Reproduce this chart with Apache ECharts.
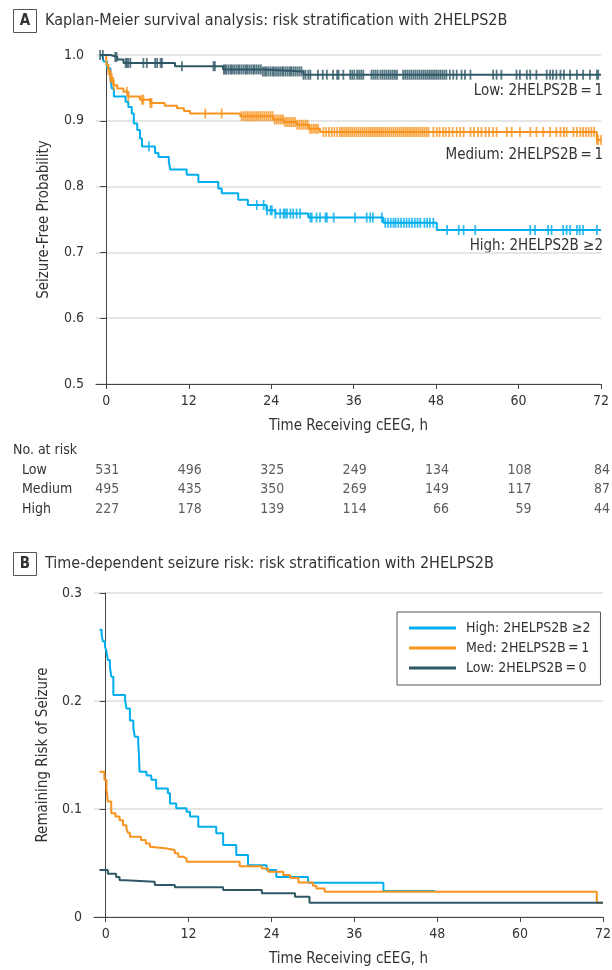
<!DOCTYPE html>
<html>
<head>
<meta charset="utf-8"/>
<title>2HELPS2B risk stratification</title>
<script src="https://cdn.jsdelivr.net/npm/echarts@6/dist/echarts.min.js"></script>
<style>
    html, body { margin: 0; padding: 0; background: #fff; }
    #main { width: 612px; height: 970px; }
</style>
</head>
<body>
<div id="main"></div>
<script type="text/javascript">
    // hours shown on both time axes
    var hourTicks = [0, 12, 24, 36, 48, 60, 72];

    // Panel A: Kaplan-Meier steps (time of drop, survival after drop)
    var lowTimesA = [-0.9, 0.6, 1.6, 2.5, 10.0, 17.0, 22.8, 28.7, 72];
    var lowSurvA = [1.0, 0.997, 0.993, 0.988, 0.983, 0.978, 0.975, 0.970, 0.970];

    var medTimesA = [-0.9, 0.0, 0.3, 0.6, 1.0, 1.6, 2.5, 3.2, 4.9, 6.4, 8.5, 10.3, 11.3, 12.2, 19.5, 24.3, 25.8, 27.7, 29.5, 31.1, 71.4, 72];
    var medSurvA = [1.0, 0.985, 0.977, 0.965, 0.954, 0.949, 0.944, 0.937, 0.932, 0.927, 0.923, 0.919, 0.915, 0.911, 0.907, 0.902, 0.898, 0.894, 0.888, 0.883, 0.871, 0.871];

    var highTimesA = [-0.6, -0.4, 0.1, 0.6, 0.8, 1.1, 2.8, 3.2, 3.7, 4.0, 4.5, 4.9, 5.2, 7.1, 7.6, 9.1, 9.3, 11.7, 13.4, 16.3, 16.8, 19.2, 20.6, 23.3, 24.6, 29.4, 40.3, 48.1, 72];
    var highSurvA = [1.0, 0.990, 0.980, 0.965, 0.949, 0.937, 0.929, 0.921, 0.911, 0.896, 0.886, 0.873, 0.861, 0.851, 0.845, 0.838, 0.826, 0.818, 0.807, 0.797, 0.790, 0.780, 0.772, 0.764, 0.759, 0.753, 0.745, 0.734, 0.734];

    // Panel A: censoring times (h)
    var lowCensor = [-0.9, -0.5, 1.3, 1.5, 2.8, 3.0, 3.2, 3.5, 5.4, 5.9, 7.1, 7.4, 7.9, 8.1, 11.0, 15.6, 15.8, 17.1, 17.3, 17.5,
        17.8, 18.1, 18.3, 18.6, 18.9, 19.2, 19.4, 19.7, 20.0, 20.3, 20.5, 20.8, 21.1, 21.4, 21.6, 21.9, 22.2, 22.5, 22.8,
        23.1, 23.3, 23.6, 23.9, 24.2, 24.4, 24.7, 25.0, 25.3, 25.6, 25.8, 26.1, 26.4, 26.7, 26.9, 27.2, 27.5, 27.8, 28.1,
        28.4, 28.7, 29.0, 29.4, 29.7, 30.8, 31.5, 32.1, 33.0, 33.6, 33.8, 34.5, 35.5, 35.8, 36.1, 36.5, 36.8, 37.1, 37.4,
        38.6, 38.9, 39.2, 39.5, 39.9, 40.2, 40.5, 40.8, 41.1, 41.4, 41.7, 42.0, 42.3, 43.2, 43.5, 43.8, 44.1, 44.4, 44.7,
        45.0, 45.3, 45.6, 45.9, 46.2, 46.5, 46.8, 47.1, 47.4, 47.7, 48.0, 48.3, 48.6, 48.9, 49.2, 49.5, 50.0, 50.5, 51.0,
        51.7, 52.2, 53.0, 56.3, 56.8, 57.5, 59.7, 60.2, 61.2, 61.7, 62.6, 64.1, 64.6, 65.0, 65.5, 66.1, 66.6, 67.5, 68.5,
        69.4, 70.4, 71.4, 71.6];
    var medCensor = [0.3, 0.6, 0.8, 1.1, 3.0, 3.2, 5.2, 5.4, 6.4, 6.6, 14.4, 16.8, 19.7, 20.0, 20.3, 20.6, 20.9, 21.2, 21.5,
        21.8, 22.1, 22.4, 22.7, 23.0, 23.3, 23.6, 23.9, 24.2, 24.5, 24.8, 25.1, 25.4, 25.7, 26.0, 26.3, 26.6, 26.9, 27.2,
        27.5, 27.8, 28.1, 28.4, 28.7, 29.0, 29.3, 29.6, 29.9, 30.2, 30.5, 30.8, 31.6, 32.0, 32.4, 32.8, 33.2, 33.6, 34.0,
        34.3, 34.6, 34.9, 35.2, 35.5, 35.8, 36.1, 36.4, 36.7, 37.0, 37.3, 37.6, 37.9, 38.2, 38.5, 38.8, 39.1, 39.4, 39.7,
        40.0, 40.3, 40.6, 40.9, 41.2, 41.5, 41.8, 42.1, 42.4, 42.7, 43.0, 43.3, 43.6, 43.9, 44.2, 44.5, 44.8, 45.1, 45.4,
        45.7, 46.0, 46.3, 46.6, 46.9, 47.6, 48.1, 48.5, 49.0, 49.4, 49.9, 50.4, 51.0, 51.5, 52.0, 53.0, 53.5, 54.1, 54.6,
        55.2, 55.7, 56.3, 56.8, 58.3, 59.0, 60.2, 61.7, 62.6, 63.6, 64.6, 65.5, 66.1, 66.6, 67.0, 68.0, 68.5, 69.0, 69.4,
        69.8, 70.2, 70.6, 71.0, 71.4, 71.6, 72.0];
    var highCensor = [6.2, 21.9, 22.9, 23.4, 23.9, 24.1, 24.6, 25.3, 25.8, 26.0, 26.3, 26.8, 27.2, 27.7, 28.2, 29.7, 29.9,
        30.6, 31.1, 31.9, 32.1, 33.1, 36.2, 37.9, 38.4, 38.8, 40.1, 40.6, 41.0, 41.4, 41.8, 42.1, 42.5, 42.9, 43.3, 43.7,
        44.1, 44.5, 44.9, 45.3, 45.7, 46.3, 46.7, 47.1, 47.6, 49.6, 51.3, 52.0, 53.7, 61.7, 62.4, 64.3, 64.8, 66.5, 67.0,
        67.5, 68.5, 68.9, 69.4, 71.4];

    // No. at risk table
    var riskGroups = ['Low', 'Medium', 'High'];
    var riskLow = [531, 496, 325, 249, 134, 108, 84];
    var riskMed = [495, 435, 350, 269, 149, 117, 87];
    var riskHigh = [227, 178, 139, 114, 66, 59, 44];

    // Panel B: remaining risk of seizure (time of step, risk after step)
    var highTimesB = [-0.9, -0.6, -0.4, -0.1, 0.1, 0.3, 0.6, 0.8, 1.1, 2.8, 3.0, 3.5, 4.0, 4.2, 4.7, 4.8, 4.9, 5.9, 6.6, 7.3, 9.0, 9.3, 10.2, 11.7, 12.2, 13.4, 16.0, 17.0, 18.9, 20.6, 23.3, 24.7, 29.3, 40.2, 47.7];
    var highRiskB = [0.266, 0.261, 0.255, 0.250, 0.246, 0.238, 0.232, 0.2225, 0.2056, 0.201, 0.193, 0.182, 0.175, 0.167, 0.161, 0.1515, 0.1345, 0.131, 0.127, 0.119, 0.1145, 0.105, 0.1006, 0.0975, 0.093, 0.0836, 0.0775, 0.0667, 0.0574, 0.048, 0.0435, 0.037, 0.0318, 0.024, 0.024];

    var medTimesB = [-0.9, -0.2, 0.1, 0.3, 0.8, 1.4, 2.0, 2.5, 3.0, 3.2, 3.5, 5.1, 5.8, 6.4, 6.6, 8.6, 10.0, 10.5, 11.2, 11.7, 19.4, 22.6, 23.5, 25.7, 26.7, 27.9, 30.0, 30.5, 31.7, 71.1, 72];
    var medRiskB = [0.1346, 0.127, 0.119, 0.107, 0.096, 0.093, 0.0895, 0.085, 0.082, 0.078, 0.0744, 0.0713, 0.068, 0.065, 0.0636, 0.062, 0.059, 0.0558, 0.0543, 0.0512, 0.047, 0.045, 0.042, 0.039, 0.036, 0.032, 0.029, 0.0265, 0.0234, 0.0132, 0.0132];

    var lowTimesB = [-0.9, 0.3, 1.5, 2.0, 2.8, 7.1, 10.0, 17.0, 22.6, 27.4, 29.5, 72];
    var lowRiskB = [0.0435, 0.040, 0.037, 0.034, 0.0327, 0.0296, 0.0275, 0.025, 0.0219, 0.0188, 0.0132, 0.0132];

    var FONT = '"Liberation Sans Narrow", "DejaVu Sans Condensed", Roboto, sans-serif';
    var TXT = '#333';
    var C_LOW = '#2f5866';
    var C_MED = '#f7931e';
    var C_HIGH = '#00aeef';

    // value of a step curve at time t
    function stepAt(times, vals, t) {
        var v = vals[0];
        for (var i = 0; i < times.length; i++) {
            if (times[i] <= t) v = vals[i];
        }
        return v;
    }

    function stepSeries(name, times, vals, color, idx) {
        return {
            name: name, type: 'line', step: 'end',
            xAxisIndex: idx, yAxisIndex: idx,
            data: times.map(function (t, i) { return [t, vals[i]]; }),
            showSymbol: false, symbol: 'none',
            lineStyle: { width: 2, color: color },
            itemStyle: { color: color },
            silent: true, z: 3
        };
    }

    function censorSeries(name, censor, times, vals, color) {
        return {
            name: name, type: 'scatter',
            xAxisIndex: 0, yAxisIndex: 0,
            symbol: 'rect', symbolSize: [1.8, 10],
            data: censor.map(function (t) { return [t, stepAt(times, vals, t)]; }),
            itemStyle: { color: color },
            silent: true, z: 4
        };
    }

    function riskSeries(group, counts) {
        return {
            type: 'scatter', xAxisIndex: 2, yAxisIndex: 2,
            symbolSize: 1, itemStyle: { color: 'rgba(0,0,0,0)' },
            silent: true,
            data: counts.map(function (n, i) {
                var d = { value: [hourTicks[i], group, n] };
                if (i === counts.length - 1) d.label = { offset: [9, 0] };
                return d;
            }),
            label: {
                show: true, position: 'inside', align: 'right', offset: [13, 0],
                formatter: function (p) { return String(p.value[2]); },
                fontFamily: FONT, fontSize: 14, color: TXT
            }
        };
    }

    function timeAxis(idx, min, show) {
        return {
            type: 'value', gridIndex: idx, min: min, max: 72, show: show,
            name: 'Time Receiving cEEG, h', nameLocation: 'middle', nameGap: 35,
            nameTextStyle: { fontFamily: FONT, fontSize: 15, color: TXT },
            axisLine: { show: true, lineStyle: { color: '#444', width: 1 } },
            axisTick: { show: true, length: 5, lineStyle: { color: '#444' }, customValues: hourTicks },
            axisLabel: { fontFamily: FONT, fontSize: 14, color: TXT, margin: 10, customValues: hourTicks },
            splitLine: { show: false }
        };
    }

    var myChart = echarts.init(document.getElementById('main'));

    var option = {
        backgroundColor: '#fff',
        animation: false,
        textStyle: { fontFamily: FONT },
        grid: [
            { left: 96, right: 11, top: 55, height: 329, containLabel: false, outerBoundsMode: 'none' },
            { left: 94, right: 9, top: 593, height: 324, containLabel: false, outerBoundsMode: 'none' },
            { left: 96, right: 11, top: 460.5, height: 58.5, containLabel: false, outerBoundsMode: 'none' }
        ],
        xAxis: [
            timeAxis(0, -1.5, true),
            timeAxis(1, -1.7, true),
            timeAxis(2, -1.5, false)
        ],
        yAxis: [
            {
                type: 'value', gridIndex: 0, min: 0.5, max: 1.0, interval: 0.1,
                name: 'Seizure-Free Probability', nameLocation: 'middle', nameGap: 44,
                nameTextStyle: { fontFamily: FONT, fontSize: 15, color: TXT },
                axisLine: { show: true, lineStyle: { color: '#444', width: 1 } },
                axisTick: { show: true, length: 6, lineStyle: { color: '#444' } },
                axisLabel: { fontFamily: FONT, fontSize: 14, color: TXT, margin: 12,
                    formatter: function (v) { return v.toFixed(1); } },
                splitLine: { show: true, lineStyle: { color: '#dcdcdc', width: 1.5 } }
            },
            {
                type: 'value', gridIndex: 1, min: 0, max: 0.3, interval: 0.1,
                name: 'Remaining Risk of Seizure', nameLocation: 'middle', nameGap: 42,
                nameTextStyle: { fontFamily: FONT, fontSize: 15, color: TXT },
                axisLine: { show: true, lineStyle: { color: '#444', width: 1 } },
                axisTick: { show: true, length: 6, lineStyle: { color: '#444' } },
                axisLabel: { fontFamily: FONT, fontSize: 14, color: TXT, margin: 12,
                    formatter: function (v) { return v === 0 ? '0' : v.toFixed(1); } },
                splitLine: { show: true, lineStyle: { color: '#dcdcdc', width: 1.5 } }
            },
            {
                type: 'category', gridIndex: 2, data: riskGroups, inverse: true,
                axisLine: { show: false }, axisTick: { show: false }, splitLine: { show: false },
                axisLabel: { fontFamily: FONT, fontSize: 14, color: TXT, align: 'left', margin: 74 }
            }
        ],
        legend: {
            data: ['High: 2HELPS2B \u22652', 'Med: 2HELPS2B\u2009=\u20091', 'Low: 2HELPS2B\u2009=\u20090'],
            orient: 'vertical', left: 397, top: 612,
            padding: [9, 10, 10, 12], itemGap: 6, itemWidth: 47, itemHeight: 3,
            icon: 'rect',
            borderColor: '#555', borderWidth: 1, borderRadius: 0, backgroundColor: '#fff',
            selectedMode: false,
            textStyle: { fontFamily: FONT, fontSize: 14, color: TXT, padding: [0, 0, 0, 5] }
        },
        series: [
            stepSeries('A High', highTimesA, highSurvA, C_HIGH, 0),
            stepSeries('A Medium', medTimesA, medSurvA, C_MED, 0),
            stepSeries('A Low', lowTimesA, lowSurvA, C_LOW, 0),
            censorSeries('A High censored', highCensor, highTimesA, highSurvA, C_HIGH),
            censorSeries('A Medium censored', medCensor, medTimesA, medSurvA, C_MED),
            censorSeries('A Low censored', lowCensor, lowTimesA, lowSurvA, C_LOW),
            stepSeries('High: 2HELPS2B \u22652', highTimesB, highRiskB, C_HIGH, 1),
            stepSeries('Med: 2HELPS2B\u2009=\u20091', medTimesB, medRiskB, C_MED, 1),
            stepSeries('Low: 2HELPS2B\u2009=\u20090', lowTimesB, lowRiskB, C_LOW, 1),
            riskSeries('Low', riskLow),
            riskSeries('Medium', riskMed),
            riskSeries('High', riskHigh)
        ],
        graphic: [
            // panel titles
            { type: 'rect', shape: { x: 13.5, y: 9.5, width: 23, height: 23 }, style: { fill: '#fff', stroke: '#555', lineWidth: 1 } },
            { type: 'text', x: 25, y: 21, style: { text: 'A', fontFamily: FONT, fontSize: 15, fontWeight: 'bold', fill: TXT, align: 'center', verticalAlign: 'middle' } },
            { type: 'text', x: 45, y: 21, style: { text: 'Kaplan-Meier survival analysis: risk stratification with 2HELPS2B', fontFamily: FONT, fontSize: 16, fill: TXT, verticalAlign: 'middle' } },
            { type: 'rect', shape: { x: 13.5, y: 552.5, width: 23, height: 23 }, style: { fill: '#fff', stroke: '#555', lineWidth: 1 } },
            { type: 'text', x: 25, y: 564, style: { text: 'B', fontFamily: FONT, fontSize: 15, fontWeight: 'bold', fill: TXT, align: 'center', verticalAlign: 'middle' } },
            { type: 'text', x: 45, y: 564, style: { text: 'Time-dependent seizure risk: risk stratification with 2HELPS2B', fontFamily: FONT, fontSize: 16, fill: TXT, verticalAlign: 'middle' } },
            // curve labels, panel A
            { type: 'text', x: 603, y: 91, style: { text: 'Low: 2HELPS2B\u2009=\u20091', fontFamily: FONT, fontSize: 15, fill: TXT, align: 'right', verticalAlign: 'middle' } },
            { type: 'text', x: 603, y: 155, style: { text: 'Medium: 2HELPS2B\u2009=\u20091', fontFamily: FONT, fontSize: 15, fill: TXT, align: 'right', verticalAlign: 'middle' } },
            { type: 'text', x: 603, y: 246, style: { text: 'High: 2HELPS2B \u22652', fontFamily: FONT, fontSize: 15, fill: TXT, align: 'right', verticalAlign: 'middle' } },
            // risk table heading
            { type: 'text', x: 13, y: 450, style: { text: 'No. at risk', fontFamily: FONT, fontSize: 14, fill: TXT, verticalAlign: 'middle' } }
        ]
    };

    myChart.setOption(option);
</script>
</body>
</html>
